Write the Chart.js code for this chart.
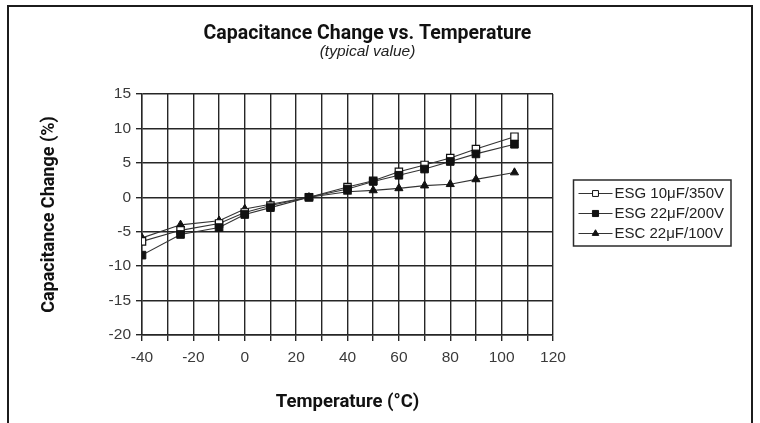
<!DOCTYPE html>
<html lang="en">
<head>
<meta charset="UTF-8">
<title>Capacitance Change vs. Temperature</title>
<script src="https://cdn.jsdelivr.net/npm/chart.js@4"></script>
<style>
  html, body { margin: 0; padding: 0; background: #fff; }
  .frame { position: relative; width: 760px; height: 423px; overflow: hidden; }
  .border {
    position: absolute; left: 7px; top: 5px; width: 746px; height: 440px;
    border: 2px solid #1c1c1c; box-sizing: border-box;
  }
  .chart { position: absolute; left: 0; top: 0; width: 760px; height: 423px; }
</style>
</head>
<body>
<div class="frame">
  <div class="border"></div>
  <div class="chart"><canvas id="capChart"></canvas></div>
</div>
<script>
// Data
const temperatures = [-40, -25, -10, 0, 10, 25, 40, 50, 60, 70, 80, 90, 105];
const esg10Values = [-6.4, -4.8, -3.8, -2.2, -1.2, 0, 1.5, 2.4, 3.7, 4.7, 5.7, 7.0, 8.8];
const esg22Values = [-8.4, -5.4, -4.4, -2.5, -1.5, 0, 1.2, 2.3, 3.2, 4.1, 5.2, 6.3, 7.7];
const esc22Values = [-5.9, -4.0, -3.4, -1.7, -1.0, 0, 0.8, 1.0, 1.3, 1.7, 1.9, 2.6, 3.6];
const seriesLabels = ["ESG 10\u03bcF/350V", "ESG 22\u03bcF/200V", "ESC 22\u03bcF/100V"];
const xTickLabels = [-40, -20, 0, 20, 40, 60, 80, 100, 120];
const yTickLabels = [-20, -15, -10, -5, 0, 5, 10, 15];

// no narrow face installed, Roboto bold is the closest fit for the condensed titles
const TITLE_FONT = "Roboto, 'Liberation Sans', sans-serif";
const REGULAR = "'Liberation Sans', Arial, sans-serif";
const GRID = "#262626";

function toPoints(values) {
  return temperatures.map((t, i) => ({ x: t, y: values[i] }));
}

// Boxed legend with line + marker samples, drawn in a column reserved right of the plot
function drawLegend(chart, area) {
  const ctx = chart.ctx;
  const left = area.left + 20.5;
  const width = 157.5;
  const height = 66;
  const top = (area.top + area.bottom) / 2 - height / 2 - 1.5;

  ctx.save();
  ctx.lineWidth = 1.5;
  ctx.strokeStyle = "#2a2a2a";
  ctx.strokeRect(left, top, width, height);
  ctx.font = "15px " + REGULAR;
  ctx.textBaseline = "middle";

  chart.data.datasets.forEach((ds, i) => {
    const y = top + 13.5 + i * 20;
    ctx.beginPath();
    ctx.moveTo(left + 5, y);
    ctx.lineTo(left + 39, y);
    ctx.lineWidth = 1;
    ctx.strokeStyle = ds.borderColor;
    ctx.stroke();

    ctx.fillStyle = ds.pointBackgroundColor;
    ctx.strokeStyle = ds.pointBorderColor;
    ctx.lineWidth = 1;
    Chart.helpers.drawPoint(
      ctx,
      { pointStyle: ds.pointStyle, radius: ds.pointRadius * 0.8, borderWidth: 1, rotation: 0 },
      left + 22,
      y,
    );

    ctx.fillStyle = "#222";
    ctx.fillText(ds.label, left + 41, y);
  });
  ctx.restore();
}

const sideLegend = {
  id: "sideLegend",
  beforeInit(chart) {
    Chart.layouts.addBox(chart, {
      position: "right",
      weight: 0,
      fullSize: false,
      options: {},
      isHorizontal: () => false,
      update(maxWidth, maxHeight) {
        this.width = 182;
        this.height = maxHeight;
      },
      draw() {
        drawLegend(chart, this);
      },
    });
  },
};

const ctx = document.getElementById("capChart").getContext("2d");
new Chart(ctx, {
  type: "line",
  data: {
    datasets: [
      {
        label: seriesLabels[0],
        data: toPoints(esg10Values),
        borderColor: "#333",
        borderWidth: 1.1,
        pointStyle: "rect",
        pointRadius: 5.2,
        pointBackgroundColor: "#fff",
        pointBorderColor: "#111",
        pointBorderWidth: 1.2,
        order: 1,
      },
      {
        label: seriesLabels[1],
        data: toPoints(esg22Values),
        borderColor: "#333",
        borderWidth: 1.1,
        pointStyle: "rect",
        pointRadius: 5.4,
        pointBackgroundColor: "#111",
        pointBorderColor: "#111",
        pointBorderWidth: 1,
        order: 0,
      },
      {
        label: seriesLabels[2],
        data: toPoints(esc22Values),
        borderColor: "#333",
        borderWidth: 1.1,
        pointStyle: "triangle",
        pointRadius: 4.7,
        pointBackgroundColor: "#111",
        pointBorderColor: "#111",
        pointBorderWidth: 1,
        order: 2,
      },
    ],
  },
  options: {
    responsive: true,
    maintainAspectRatio: false,
    animation: false,
    layout: { padding: { left: 0, right: 25, top: 0, bottom: 0 } },
    elements: { line: { tension: 0, fill: false } },
    plugins: {
      legend: { display: false },
      tooltip: { enabled: false },
      title: {
        display: true,
        text: "Capacitance Change vs. Temperature",
        color: "#111",
        font: { family: TITLE_FONT, size: 19.5, weight: "bold", lineHeight: 1 },
        padding: { top: 24.5, bottom: 0 },
      },
      subtitle: {
        display: true,
        text: "(typical value)",
        color: "#222",
        font: { family: REGULAR, size: 15.5, style: "italic", lineHeight: 1 },
        padding: { top: 0, bottom: 34.5 },
      },
    },
    scales: {
      x: {
        type: "linear",
        min: -40,
        max: 120,
        afterFit: (scale) => {
          scale.height = 88;
        },
        ticks: {
          stepSize: 10,
          autoSkip: false,
          maxRotation: 0,
          padding: 7,
          color: "#3a3a3a",
          font: { family: REGULAR, size: 15.5 },
          callback: (v) => (xTickLabels.includes(v) ? String(v) : ""),
        },
        grid: { color: GRID, lineWidth: 1.4, tickLength: 6 },
        border: { color: GRID, width: 1.4 },
        title: {
          display: true,
          text: "Temperature (\u00b0C)",
          color: "#111",
          font: { family: TITLE_FONT, size: 18.5, weight: "bold", lineHeight: 1 },
          padding: { top: 4, bottom: 11.5 },
        },
      },
      y: {
        min: -20,
        max: 15,
        afterFit: (scale) => {
          scale.width = 142;
        },
        ticks: {
          stepSize: 5,
          autoSkip: false,
          padding: 5,
          color: "#3a3a3a",
          font: { family: REGULAR, size: 15.5 },
          callback: (v) => (yTickLabels.includes(v) ? String(v) : ""),
        },
        grid: { color: GRID, lineWidth: 1.4, tickLength: 6 },
        border: { color: GRID, width: 1.4 },
        title: {
          display: true,
          text: "Capacitance Change (%)",
          color: "#111",
          font: { family: TITLE_FONT, size: 18, weight: "bold", lineHeight: 1 },
          padding: { top: 40, bottom: 4 },
        },
      },
    },
  },
  plugins: [sideLegend],
});
</script>
</body>
</html>
